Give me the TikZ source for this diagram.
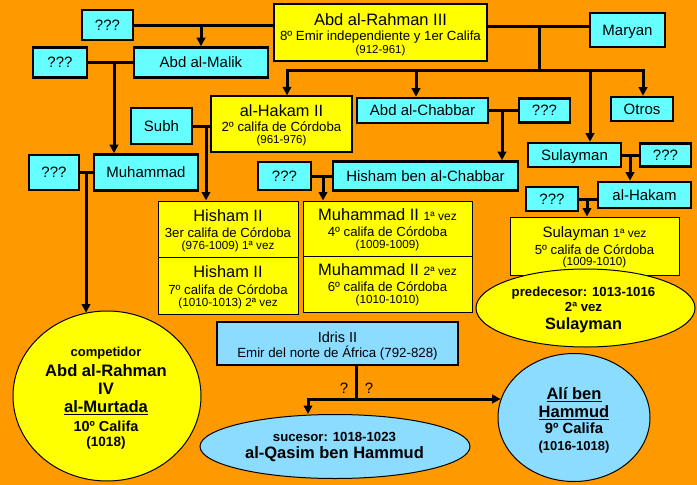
\documentclass[tikz,border=0pt]{standalone}
\usepackage{fontspec}
\setmainfont{Liberation Sans}
\usetikzlibrary{arrows.meta,shapes.geometric}
\definecolor{bgor}{RGB}{255,153,0}
\definecolor{cyanb}{RGB}{102,255,255}
\definecolor{yel}{RGB}{255,255,0}
\definecolor{lblue}{RGB}{140,220,255}
\newcommand\fsz[1]{\fontsize{#1}{#1}\selectfont}
\newcommand\ulx[1]{\setbox0\hbox{#1}\rlap{\rule[-2.6pt]{\wd0}{1.3pt}}\box0}
\begin{document}
\begin{tikzpicture}[x=1pt,y=-1pt,
  sz/.style 2 args={minimum width=#1pt, minimum height=#2pt},
  cbox/.style={draw, line width=2.6pt, fill=cyanb, inner sep=0pt, font=\fsz{15}, text height=10.8pt, text depth=0pt},
  ybox/.style={draw, line width=1.3pt, fill=yel, inner sep=0pt},
  tbox/.style={draw, line width=1pt, fill=yel, inner sep=0pt},
  bbox/.style={draw, line width=2.6pt, fill=lblue, inner sep=0pt},
  ell/.style={ellipse, draw, line width=1pt, inner sep=0pt},
  tx/.style={inner sep=0pt, anchor=base},
  conn/.style={line width=3pt, draw=black},
  tipA/.tip={Triangle[width=8.5pt,length=8.5pt]},
  arr/.style={conn, -tipA},
  arr2/.style={conn, tipA-tipA}]
\useasboundingbox (0,0) rectangle (697,485);
\fill[bgor] (0,0) rectangle (697,485);

% ---- boxes ----
\node[cbox, sz={51}{30}] (q1) at (107.5,25) {???};
\node[ybox, sz={213}{57}] (rahman) at (380.5,32.5) {};
\node[cbox, sz={75}{34}] (maryan) at (627.5,30) {Maryan};
\node[cbox, sz={134}{30}] (abdmalik) at (201,62.5) {Abd al-Malik};
\node[cbox, sz={54}{30}] (q2) at (60,62.5) {???};
\node[cbox, sz={61}{36}] (subh) at (161.5,126) {Subh};
\node[ybox, sz={141}{56}] (hakam2) at (281.5,124) {};
\node[cbox, sz={50}{35}] (q3) at (54,172.5) {???};
\node[cbox, sz={104}{36}] (muhammad) at (146,172.5) {Muhammad};
\node[cbox, sz={53}{28}] (q4) at (284.5,176) {???};
\node[cbox, sz={131}{25}] (chabbar) at (422.5,110.5) {Abd al-Chabbar};
\node[cbox, sz={51}{24}] (q5) at (544.5,110.5) {???};
\node[cbox, sz={62}{24}] (otros) at (642,109) {Otros};
\node[cbox, sz={93}{24}] (sulayman) at (574.5,155) {Sulayman};
\node[cbox, sz={51}{23}] (q6) at (665.5,155) {???};
\node[cbox, sz={185}{29}] (hbchabbar) at (425.5,176) {Hisham ben al-Chabbar};
\node[cbox, sz={93}{26}] (alhakam) at (644.5,195) {al-Hakam};
\node[cbox, sz={52}{24}] (q7) at (552,199) {???};
\node[tbox, sz={140}{56}] (hisham1) at (228,229) {};
\node[tbox, sz={140}{57}] (hisham2) at (228,285.5) {};
\node[tbox, sz={169}{55}] (muh1) at (387.5,228.5) {};
\node[tbox, sz={169}{56}] (muh2) at (387.5,284) {};
\node[tbox, sz={169}{58}] (sul1) at (594.5,246) {};
\node[ell, fill=yel, sz={219}{78}] (pred) at (585.5,308) {};
\node[bbox, sz={241}{43}] (idris) at (337.5,343.5) {};
\node[ell, fill=yel, sz={188}{170}] (comp) at (107,396) {};
\node[ell, fill=lblue, sz={270}{64}] (suc) at (335,446.5) {};
\node[ell, fill=lblue, sz={152}{128}] (ali) at (574,417.5) {};

% ---- texts ----
\node[tx, font=\fsz{16.5}] (rt1) at (380.5,25.5) {Abd al-Rahman III};
\node[tx, font=\fsz{13.25}] (rt2) at (380.5,40.5) {8º Emir independiente y 1er Califa};
\node[tx, font=\fsz{11.5}] (rt3) at (380.5,53) {(912-961)};

\node[tx, font=\fsz{16.3}] (ht1) at (281.5,116.7) {al-Hakam II};
\node[tx, font=\fsz{13.25}] (ht2) at (281.5,131.7) {2º califa de Córdoba};
\node[tx, font=\fsz{11.5}] (ht3) at (281.5,143) {(961-976)};

\node[tx, font=\fsz{16.4}] (h1a) at (228,221) {Hisham II};
\node[tx, font=\fsz{13.2}] (h1b) at (228,237.3) {3er califa de Córdoba};
\node[tx, font=\fsz{11.7}] (h1c) at (228,249.3) {(976-1009) 1ª vez};
\node[tx, font=\fsz{16.4}] (h2a) at (228,277.7) {Hisham II};
\node[tx, font=\fsz{13.2}] (h2b) at (228,294) {7º califa de Córdoba};
\node[tx, font=\fsz{11.7}] (h2c) at (228,306.7) {(1010-1013) 2ª vez};

\node[tx, font=\fsz{16.5}] (m1a) at (387.5,220.7) {Muhammad II {\fsz{12}1ª vez}};
\node[tx, font=\fsz{13.2}] (m1b) at (387.5,236.7) {4º califa de Córdoba};
\node[tx, font=\fsz{11.7}] (m1c) at (387.5,248) {(1009-1009)};
\node[tx, font=\fsz{16.5}] (m2a) at (387.5,275.7) {Muhammad II {\fsz{12}2ª vez}};
\node[tx, font=\fsz{13.2}] (m2b) at (387.5,291.7) {6º califa de Córdoba};
\node[tx, font=\fsz{11.7}] (m2c) at (387.5,303) {(1010-1010)};

\node[tx, font=\fsz{15}] (s1a) at (594.5,237.3) {Sulayman {\fsz{12}1ª vez}};
\node[tx, font=\fsz{13.2}] (s1b) at (594.5,254) {5º califa de Córdoba};
\node[tx, font=\fsz{11.7}] (s1c) at (594.5,265.7) {(1009-1010)};

\node[tx, font=\bfseries\fsz{13.2}] (p1) at (583.5,296.7) {predecesor: 1013-1016};
\node[tx, font=\bfseries\fsz{13.2}] (p2) at (583.5,311) {2ª vez};
\node[tx, font=\bfseries\fsz{16.3}] (p3) at (583.5,329) {Sulayman};

\node[tx, font=\fsz{14.5}] (i1) at (337.5,342.3) {Idris II};
\node[tx, font=\fsz{13.3}] (i2) at (337.5,357.7) {Emir del norte de África (792-828)};

\node[tx, font=\bfseries\fsz{13}] (c1) at (106,356) {competidor};
\node[tx, font=\bfseries\fsz{16.6}] (c2) at (106,376) {Abd al-Rahman};
\node[tx, font=\bfseries\fsz{16.6}] (c3) at (106,394) {IV};
\node[tx, font=\bfseries\fsz{16.6}] (c4) at (106,412.7) {\ulx{al-Murtada}};
\node[tx, font=\bfseries\fsz{14.5}] (c5) at (106,431) {10º Califa};
\node[tx, font=\bfseries\fsz{13.5}] (c6) at (106,446.7) {(1018)};

\node[tx, font=\bfseries\fsz{16.5}] (a1) at (574,399.3) {\ulx{Alí ben}};
\node[tx, font=\bfseries\fsz{16.5}] (a2) at (574,417.3) {\ulx{Hammud}};
\node[tx, font=\bfseries\fsz{14.8}] (a3) at (574,433.3) {9º Califa};
\node[tx, font=\bfseries\fsz{13}] (a4) at (574,450) {(1016-1018)};

\node[tx, font=\bfseries\fsz{13.2}] (u1) at (334.5,441.7) {sucesor: 1018-1023};
\node[tx, font=\bfseries\fsz{16.5}] (u2) at (334.5,458.7) {al-Qasim ben Hammud};

\node[tx, font=\fsz{15}] (qm1) at (344,393.3) {?};
\node[tx, font=\fsz{15}] (qm2) at (369,393.3) {?};

% ---- connectors ----
\draw[conn] (q1.east) -- (q1.east -| rahman.west);
\draw[arr] (abdmalik.north |- q1.east) -- (abdmalik.north);

\draw[conn] (q2.east) -- (abdmalik.west);
\coordinate (j2) at (114,62.5);
\draw[arr] (j2) -- (j2 |- muhammad.north);

\coordinate (jR) at (539,26);
\coordinate (jB) at (539,70);
\coordinate (busL) at (287,70);
\coordinate (busR) at (643,70);
\coordinate (bC) at (416,70);
\coordinate (bS) at (590,70);
\draw[conn] (jR -| rahman.east) -- (jR -| maryan.west);
\draw[conn] (jR) -- (jB);
\draw[arr2] (busL |- hakam2.north) -- (busL) -- (busR) -- (busR |- otros.north);
\draw[arr] (bC) -- (bC |- chabbar.north);
\draw[arr] (bS) -- (bS |- sulayman.north);

\draw[conn] (subh.east) -- (subh.east -| hakam2.west);
\coordinate (j4) at (206,126);
\draw[arr] (j4) -- (j4 |- hisham1.north);

\draw[conn] (q3.east) -- (muhammad.west);
\coordinate (j5) at (86,172.5);
\draw[arr] (j5) -- (j5 |- comp.104);

\draw[conn] (chabbar.east) -- (q5.west);
\coordinate (j6) at (502,110.5);
\draw[arr] (j6) -- (j6 |- hbchabbar.north);

\draw[conn] (q4.east) -- (hbchabbar.west);
\coordinate (j7) at (323,176);
\draw[arr] (j7) -- (j7 |- muh1.north);

\draw[conn] (sulayman.east) -- (q6.west);
\coordinate (j8) at (630,155);
\draw[arr] (j8) -- (j8 |- alhakam.north);

\draw[conn] (q7.east) -- (q7.east -| alhakam.west);
\coordinate (j9) at (587,199);
\draw[arr] (j9) -- (j9 |- sul1.north);

\coordinate (jI) at (356,399);
\coordinate (jL) at (308,399);
\draw[conn] (jI |- idris.south) -- (jI);
\draw[arr2] (jL |- suc.north) -- (jL) -- (jL -| ali.166);
\end{tikzpicture}
\end{document}
